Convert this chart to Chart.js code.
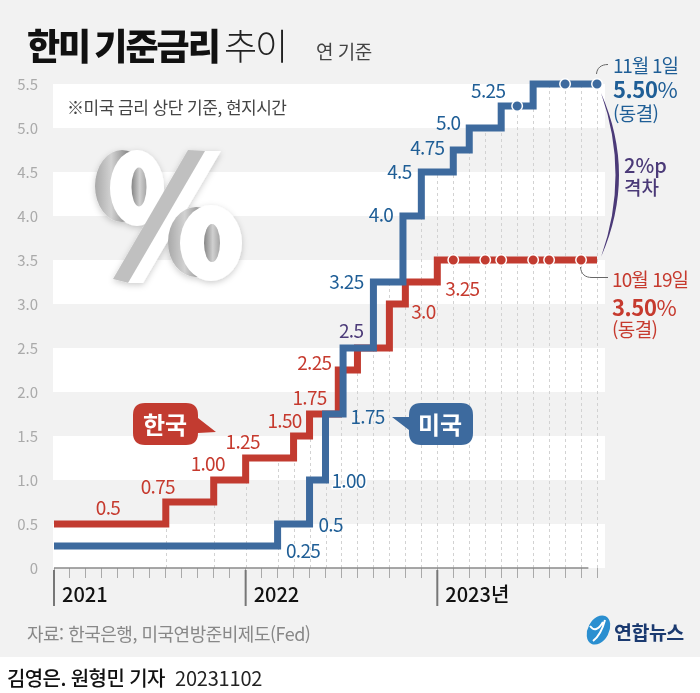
<!DOCTYPE html>
<html lang="ko">
<head>
<meta charset="utf-8">
<script src="https://cdn.jsdelivr.net/npm/chart.js@4"></script>
<style>
    html, body { margin: 0; padding: 0; background: #fff; }
    #page { position: relative; width: 700px; height: 693px; overflow: hidden; font-family: "Noto Sans CJK KR", "Noto Sans", sans-serif; }
    #bg { position: absolute; left: 0; top: 0; width: 700px; height: 657px; background: #f2f2f2; }
    canvas { position: absolute; left: 0; top: 0; }
    svg { position: absolute; left: 0; top: 0; }
    .t { position: absolute; white-space: nowrap; transform: translateY(-50%); line-height: 1.2; }
    .blue { color: #1f5e96; }
    .red { color: #c63a2e; }
    .purple { color: #4b3a78; }
    .b { font-weight: 700; }
</style>
</head>
<body>
<div id="page">
    <div id="bg"></div>
    <canvas id="rates" width="700" height="693"></canvas>
    <svg width="700" height="693" viewBox="0 0 700 693">
        <defs>
            <linearGradient id="metal" x1="0" x2="1" y1="0" y2="0">
                <stop offset="0" stop-color="#a9a9a9"/>
                <stop offset="0.3" stop-color="#d2d2d2"/>
                <stop offset="0.6" stop-color="#8c8c8c"/>
                <stop offset="1" stop-color="#777"/>
            </linearGradient>
            <linearGradient id="hole" x1="0" x2="1" y1="0" y2="0">
                <stop offset="0" stop-color="#858585"/>
                <stop offset="0.55" stop-color="#d0d0d0"/>
                <stop offset="1" stop-color="#a5a5a5"/>
            </linearGradient>
            <filter id="soft" x="-20%" y="-20%" width="140%" height="140%">
                <feDropShadow dx="0" dy="2" stdDeviation="3" flood-color="#000" flood-opacity="0.2"/>
            </filter>
        </defs>
        <g filter="url(#soft)">
            <ellipse cx="122" cy="186" rx="27" ry="36" fill="url(#metal)"/>
            <ellipse cx="137" cy="188" rx="27" ry="38" fill="#fff"/>
            <ellipse cx="139" cy="187" rx="7.5" ry="19.5" fill="url(#hole)"/>
            <polygon points="188,150 206,151 129,283 113,279" fill="#c0c0c0"/>
            <polygon points="205,151 221,151 143,283 128,283" fill="#fff"/>
            <ellipse cx="196" cy="242" rx="28" ry="35" fill="url(#metal)"/>
            <ellipse cx="211" cy="243" rx="31" ry="38" fill="#fff"/>
            <ellipse cx="212" cy="243" rx="8" ry="19" fill="url(#hole)"/>
        </g>
        <path d="M601,93 Q637,175 601,257 Q630,175 601,93 Z" fill="#4b3a78"/>
        <path d="M596.5,74 C597,68 601,64.5 608,64.5" fill="none" stroke="#666" stroke-width="1"/>
        <path d="M580.5,267 C581,274 585,277.5 592,277.5 L608,277.5" fill="none" stroke="#666" stroke-width="1"/>
        <path d="M145,403 H186 Q198,403 198,415 V418 L216,432 L198,433 Q198,445 186,445 H145 Q133,445 133,433 V415 Q133,403 145,403 Z" fill="#c23b30"/>
        <path d="M421,403 H461 Q473,403 473,415 V433 Q473,445 461,445 H421 Q409,445 409,433 V430 L392,417 L409,417 V415 Q409,403 421,403 Z" fill="#3d6a9e"/>
        <ellipse cx="598.5" cy="630" rx="10.5" ry="15.5" transform="rotate(28 598.5 630)" fill="#2b8fd0"/>
        <path d="M590,626 Q596,634 603,622 M605,620 Q601,635 593,641" fill="none" stroke="#fff" stroke-width="2"/>
    </svg>

    <span class="t" style="left:27px;top:45px;font-size:36px;font-weight:900;letter-spacing:-2px;word-spacing:-3px;color:#111;">한미 기준금리</span>
    <span class="t" style="left:224px;top:45px;font-size:36px;font-weight:300;letter-spacing:-2px;color:#222;">추이</span>
    <span class="t" style="left:316px;top:51px;font-size:19px;letter-spacing:-0.5px;color:#444;">연 기준</span>
    <span class="t" style="left:67px;top:107px;font-size:17px;letter-spacing:-0.5px;color:#444;">※미국 금리 상단 기준, 현지시간</span>

    <span class="t b" style="left:165px;top:424px;transform:translate(-50%,-50%);font-size:24px;color:#fff;">한국</span>
    <span class="t b" style="left:440px;top:424px;transform:translate(-50%,-50%);font-size:24px;color:#fff;">미국</span>

    <span class="t blue" style="left:613px;top:65px;font-size:19px;letter-spacing:-1.2px;">11월 1일</span>
    <span class="t blue" style="left:613px;top:88px;font-size:22px;letter-spacing:-0.4px;"><span class="b">5.50</span>%</span>
    <span class="t blue" style="left:613px;top:113px;font-size:19px;letter-spacing:-0.6px;">(동결)</span>
    <span class="t purple" style="left:624px;top:165px;font-size:20px;font-weight:500;">2%p</span>
    <span class="t purple" style="left:624px;top:187px;font-size:19px;font-weight:500;">격차</span>
    <span class="t red" style="left:612px;top:279px;font-size:19px;letter-spacing:-0.9px;">10월 19일</span>
    <span class="t red" style="left:612px;top:306px;font-size:22px;letter-spacing:-0.4px;"><span class="b">3.50</span>%</span>
    <span class="t red" style="left:612px;top:329px;font-size:19px;letter-spacing:-0.6px;">(동결)</span>

    <span class="t" style="left:27px;top:634px;font-size:18px;letter-spacing:-0.5px;color:#888;">자료: 한국은행, 미국연방준비제도(Fed)</span>
    <span class="t b" style="left:614px;top:632px;font-size:19.5px;letter-spacing:-0.5px;color:#1b3a70;">연합뉴스</span>
    <span class="t" style="left:7px;top:678px;font-size:20px;font-weight:500;letter-spacing:-0.6px;color:#111;">김영은. 원형민 기자</span>
    <span class="t" style="left:175px;top:678px;font-size:20px;letter-spacing:-0.2px;color:#222;">20231102</span>
</div>
<script>
// months counted from Jan 2021
const krMonths = [0, 7, 10, 12, 15, 16, 17.8, 19, 21, 22, 24, 34];
const krRates = [0.5, 0.75, 1.0, 1.25, 1.5, 1.75, 2.25, 2.5, 3.0, 3.25, 3.5, 3.5];
const krLabels = ['0.5', '0.75', '1.00', '1.25', '1.50', '1.75', '2.25', null, '3.0', '3.25', null, null];
const krLabelOffsets = [[54, -16], [-8, -15], [-6, -16], [-3, -16], [-9, -15], [0, -16], [-24, -7], null, [34, 8], [57, 7], null, null];
const krHoldMonths = [25, 27, 28, 30, 31, 33];

const usMonths = [0, 14, 16, 17, 18.1, 20, 21.85, 23, 25, 26, 28, 30, 34];
const usRates = [0.25, 0.5, 1.0, 1.75, 2.5, 3.25, 4.0, 4.5, 4.75, 5.0, 5.25, 5.5, 5.5];
const usLabels = ['0.25', '0.5', '1.00', '1.75', '2.5', '3.25', '4.0', '4.5', '4.75', '5.0', '5.25', null, null];
const usLabelOffsets = [[249, 5], [53, 1], [39, 1], [42, 3], [8, -17], [-27, 0], [-22, -1], [-22, 0], [-26, -2], [-21, -5], [-13, -15], null, null];
const usHoldMonths = [29, 32, 34];

const yTicks = [0, 0.5, 1, 1.5, 2, 2.5, 3, 3.5, 4, 4.5, 5, 5.5];
const yearMonths = [0, 12, 24];
const yearLabels = ['2021', '2022', '2023년'];
const dropMonths = [7, 10, 12, 14, 15, 16, 17, 18, 19, 20, 21, 22, 23, 24, 25, 26, 27, 28, 29, 30, 31, 32, 33, 34];

const RED = '#c23b30';
const BLUE = '#3d6a9e';
const RED_TEXT = '#c63a2e';
const BLUE_TEXT = '#1f5e96';
const PURPLE_TEXT = '#4b3a78';
const FONT = '"Noto Sans CJK KR", "Noto Sans", sans-serif';

Chart.defaults.font.family = FONT;

function toPoints(months, values) {
    return months.map((m, i) => ({ x: m, y: values[i] }));
}

// rate in force at a given month
function rateAt(months, rates, month) {
    let rate = rates[0];
    for (let i = 0; i < months.length; i++) {
        if (months[i] <= month) rate = rates[i];
    }
    return rate;
}

const backdropPlugin = {
    id: 'backdrop',
    beforeDatasetsDraw(chart) {
        const { ctx, chartArea, scales } = chart;
        const x = scales.x, y = scales.y;
        ctx.save();
        // white bands every other step
        ctx.fillStyle = '#fff';
        for (let i = 0; i + 1 < yTicks.length; i += 2) {
            const top = y.getPixelForValue(yTicks[i + 1]);
            const bottom = y.getPixelForValue(yTicks[i]);
            ctx.fillRect(chartArea.left - 1, top, chartArea.width + 1, bottom - top);
        }
        // dashed drop lines up to the higher series
        ctx.strokeStyle = '#d2d2d2';
        ctx.lineWidth = 1;
        ctx.setLineDash([3, 3]);
        for (const month of dropMonths) {
            const top = Math.max(rateAt(krMonths, krRates, month), rateAt(usMonths, usRates, month));
            const px = Math.round(x.getPixelForValue(month)) + 0.5;
            ctx.beginPath();
            ctx.moveTo(px, y.getPixelForValue(0));
            ctx.lineTo(px, y.getPixelForValue(top));
            ctx.stroke();
        }
        ctx.setLineDash([]);
        // x axis stops a little short of the last month
        ctx.strokeStyle = '#8a8a8a';
        ctx.lineWidth = 1.5;
        ctx.beginPath();
        ctx.moveTo(x.getPixelForValue(0), y.getPixelForValue(0));
        ctx.lineTo(x.getPixelForValue(33.46), y.getPixelForValue(0));
        ctx.stroke();
        // long year ticks
        ctx.strokeStyle = '#777';
        ctx.lineWidth = 2;
        for (const month of yearMonths) {
            const px = x.getPixelForValue(month);
            ctx.beginPath();
            ctx.moveTo(px, chartArea.bottom + 2);
            ctx.lineTo(px, chartArea.bottom + 38);
            ctx.stroke();
        }
        ctx.restore();
    },
};

function drawLabels(chart, months, rates, labels, offsets, color) {
    const { ctx, scales } = chart;
    ctx.textAlign = 'center';
    ctx.textBaseline = 'middle';
    ctx.font = `19px ${FONT}`;
    ctx.letterSpacing = '-0.7px';
    labels.forEach((label, i) => {
        if (label === null) return;
        const px = scales.x.getPixelForValue(months[i]) + offsets[i][0];
        const py = scales.y.getPixelForValue(rates[i]) + offsets[i][1];
        if (label === '1.00' && color === BLUE_TEXT) {
            ctx.strokeStyle = '#fff';
            ctx.lineWidth = 3;
            ctx.strokeText(label, px, py);
        }
        // the shared 2.5 is set in purple
        ctx.fillStyle = (label === '2.5') ? PURPLE_TEXT : color;
        ctx.fillText(label, px, py);
    });
}

const valueLabelPlugin = {
    id: 'valueLabels',
    afterDatasetsDraw(chart) {
        chart.ctx.save();
        drawLabels(chart, krMonths, krRates, krLabels, krLabelOffsets, RED_TEXT);
        drawLabels(chart, usMonths, usRates, usLabels, usLabelOffsets, BLUE_TEXT);
        chart.ctx.restore();
    },
};

new Chart(document.getElementById('rates'), {
    type: 'line',
    data: {
        datasets: [{
            label: '미국 동결',
            data: usHoldMonths.map(m => ({ x: m, y: rateAt(usMonths, usRates, m) })),
            showLine: false,
            pointRadius: 5.25,
            pointBorderWidth: 1.5,
            pointBackgroundColor: BLUE,
            pointBorderColor: '#fff',
            clip: false,
        }, {
            label: '한국 동결',
            data: krHoldMonths.map(m => ({ x: m, y: rateAt(krMonths, krRates, m) })),
            showLine: false,
            pointRadius: 5.25,
            pointBorderWidth: 1.5,
            pointBackgroundColor: RED,
            pointBorderColor: '#fff',
            clip: false,
        }, {
            label: '미국',
            data: toPoints(usMonths, usRates),
            stepped: true,
            borderColor: BLUE,
            borderWidth: 7,
            borderJoinStyle: 'miter',
            borderCapStyle: 'butt',
            pointRadius: 0,
            clip: false,
        }, {
            label: '한국',
            data: toPoints(krMonths, krRates),
            stepped: true,
            borderColor: RED,
            borderWidth: 7,
            borderJoinStyle: 'miter',
            borderCapStyle: 'butt',
            pointRadius: 0,
            clip: false,
        }],
    },
    options: {
        responsive: false,
        animation: false,
        layout: { padding: { left: 0, top: 84, right: 95, bottom: 80 } },
        plugins: {
            legend: { display: false },
            tooltip: { enabled: false },
        },
        scales: {
            x: {
                type: 'linear',
                min: 0,
                max: 34.5,
                afterFit: scale => { scale.height = 45; },
                border: { display: false },
                grid: {
                    drawOnChartArea: false,
                    drawTicks: true,
                    tickLength: 10,
                    tickWidth: 1,
                    tickColor: '#aaa',
                },
                ticks: {
                    stepSize: 1,
                    includeBounds: false,
                    autoSkip: false,
                    maxRotation: 0,
                    align: 'start',
                    labelOffset: 8,
                    padding: 4,
                    color: '#111',
                    font: { size: 20, weight: '500' },
                    callback: value => {
                        const i = yearMonths.indexOf(value);
                        return i >= 0 ? yearLabels[i] : '';
                    },
                },
            },
            y: {
                min: 0,
                max: 5.5,
                afterFit: scale => { scale.width = 54; },
                afterBuildTicks: scale => { scale.ticks = yTicks.map(v => ({ value: v })); },
                border: { display: false },
                grid: { display: false },
                ticks: {
                    padding: 8,
                    color: '#aaa',
                    font: { size: 15 },
                    callback: value => (value === 0 ? '0' : value.toFixed(1)),
                },
            },
        },
    },
    plugins: [backdropPlugin, valueLabelPlugin],
});
</script>
</body>
</html>
